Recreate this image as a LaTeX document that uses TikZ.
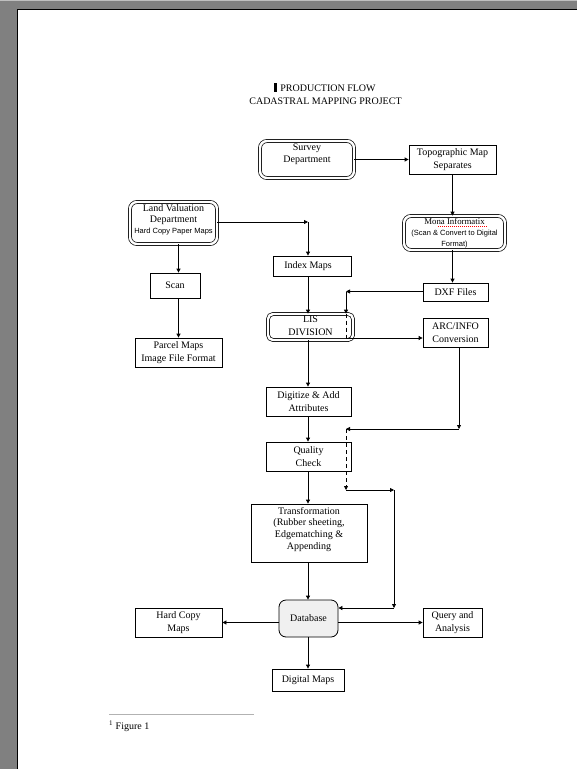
\documentclass[tikz,border=0pt]{standalone}
\usepackage{fontspec}
\setmainfont{Liberation Serif}
\setsansfont{Liberation Sans}
\usetikzlibrary{arrows.meta}
\newcommand\liftup[2]{\raisebox{#1}[\height][\depth]{\begin{tabular}{@{}c@{}}#2\end{tabular}}}
\begin{document}
\begin{tikzpicture}[x=1bp,y=-1bp,
  every node/.style={font=\fontsize{10bp}{12.5bp}\selectfont, inner sep=0pt},
  plainbox/.style={draw, line width=0.8bp},
  box/.style={plainbox, align=center},
  dbox/.style={draw, double, double distance=2.4bp, line width=0.7bp, rounded corners=7bp, align=center},
  arr/.style={line width=0.8bp, -{Triangle[length=4bp,width=4bp]}},
  dashline/.style={line width=0.8bp, dash pattern=on 4bp off 3bp},
  ]
\useasboundingbox (0,0) rectangle (577,769);
% page background
\fill[gray] (0,0) rectangle (577,769);
\fill[gray!50] (0,0) rectangle (577,1.5);
\fill[white] (17.5,10) rectangle (577,769);
\draw[line width=1bp] (17.5,769) -- (17.5,10) -- (577,10);

% title
\node (t1) at (328,88) {PRODUCTION FLOW};
\node (t2) at (325.5,101) {CADASTRAL MAPPING PROJECT};
\fill (274,83) rectangle (276.5,92);

% nodes
\node[dbox, minimum width=94bp, minimum height=37bp] (survey) at (307,159.5) {\liftup{5.5bp}{Survey\\Department}};
\node[box, minimum width=87bp, minimum height=29bp] (topo) at (452.5,159.5) {Topographic Map\\Separates};
\node[dbox, minimum width=87bp, minimum height=42bp, font=\fontsize{10bp}{11bp}\selectfont] (landval) at (173.5,223)
  {\liftup{3bp}{Land Valuation\\Department\\{\sffamily\fontsize{7.5bp}{9bp}\selectfont Hard Copy Paper Maps}}};
\node[dbox, minimum width=101bp, minimum height=34bp, font=\fontsize{10bp}{11bp}\selectfont] (mona) at (454.5,233)
  {{\fontsize{8.8bp}{11bp}\selectfont Mona Informatix}\\{\sffamily\fontsize{7.5bp}{11bp}\selectfont (Scan \& Convert to Digital}\\{\sffamily\fontsize{7.5bp}{11bp}\selectfont Format)}};
\draw[red, line width=0.6bp, dash pattern=on 1bp off 1bp] (438,226) -- (487,226);
\node[plainbox, minimum width=78bp, minimum height=20bp] (index) at (312,266) {\hspace*{-8bp}Index Maps};
\node[box, minimum width=50bp, minimum height=25bp] (scan) at (175,285.5) {Scan};
\node[box, minimum width=87bp, minimum height=29bp] (parcel) at (178.5,352.5) {Parcel Maps\\Image File Format};
\node[box, minimum width=65bp, minimum height=18bp] (dxf) at (455.5,292) {DXF Files};
\node[dbox, minimum width=85bp, minimum height=26bp, rounded corners=5bp] (lis) at (310.5,327) {\liftup{0.5bp}{LIS\\DIVISION}};
\node[box, minimum width=65bp, minimum height=29bp] (arc) at (455.5,332.5) {ARC/INFO\\Conversion};
\node[box, minimum width=85bp, minimum height=29bp] (digit) at (308.5,401.5) {Digitize \& Add\\Attributes};
\node[box, minimum width=85bp, minimum height=29bp] (quality) at (308.5,456.5) {Quality\\Check};
\node[box, minimum width=116bp, minimum height=58bp, font=\fontsize{10bp}{11.7bp}\selectfont] (trans) at (309,533)
  {\liftup{3.5bp}{Transformation\\(Rubber sheeting,\\Edgematching \&\\Appending}};
\node[box, rounded corners=7bp, fill=gray!12, minimum width=59bp, minimum height=37bp] (db) at (308.5,618.5) {Database};
\node[box, minimum width=87bp, minimum height=29bp] (hard) at (178.5,622.5) {Hard Copy\\Maps};
\node[box, minimum width=59bp, minimum height=29bp] (query) at (452.5,622.5) {Query and\\Analysis};
\node[box, minimum width=72bp, minimum height=22bp] (digital) at (308,680) {Digital Maps};

% connectors
\coordinate (c1) at (308,222);
\coordinate (c2) at (346,291.5);
\coordinate (c3) at (346,338);
\coordinate (c4) at (459,429);
\coordinate (c5) at (346,429);
\coordinate (c6) at (346,490);
\coordinate (c7) at (394,490);
\coordinate (c8) at (394,608);

\draw[arr] (survey) -- (topo);
\draw[arr] (topo.south) -- (topo.south |- mona.north);
\draw[arr] (mona.south -| topo.south) -- (dxf.north -| topo.south);
\draw[arr] (landval.south -| parcel.north) -- (scan.north -| parcel.north);
\draw[arr] (scan.south -| parcel.north) -- (parcel.north);
\draw[arr] (landval.east |- c1) -- (c1);
\draw[arr] (c1) -- (c1 |- index.north);
\draw[arr] (index.south -| c1) -- (lis.north -| c1);
\draw[arr] (dxf.west |- c2) -- (c2);
\draw[arr] (c2) -- (c2 |- lis.north);
\draw[dashline] (c2 |- lis.north) -- (c3);
\draw[arr] (c3) -- (c3 -| arc.west);
\draw[arr] (lis.south -| c1) -- (digit.north -| c1);
\draw[arr] (digit.south -| c1) -- (quality.north -| c1);
\draw[arr] (quality.south -| c1) -- (trans.north -| c1);
\draw[arr] (trans.south -| c1) -- (db.north -| c1);
\draw[arr] (db.south -| c1) -- (digital.north -| c1);
\draw[arr] (db.west |- hard.east) -- (hard.east);
\draw[arr] (db.east |- query.west) -- (query.west);
\draw[arr] (arc.south -| c4) -- (c4);
\draw[arr] (c4) -- (c5);
\draw[arr, dashline] (c5) -- (c6);
\draw[arr] (c6) -- (c7);
\draw[arr] (c7) -- (c8);
\draw[arr] (c8) -- (c8 -| db.east);

% footnote
\draw[gray!60, line width=1bp] (109,714) -- (254,714);
\node[anchor=west] (fn) at (109,726) {\textsuperscript{1} Figure 1};
\end{tikzpicture}
\end{document}
